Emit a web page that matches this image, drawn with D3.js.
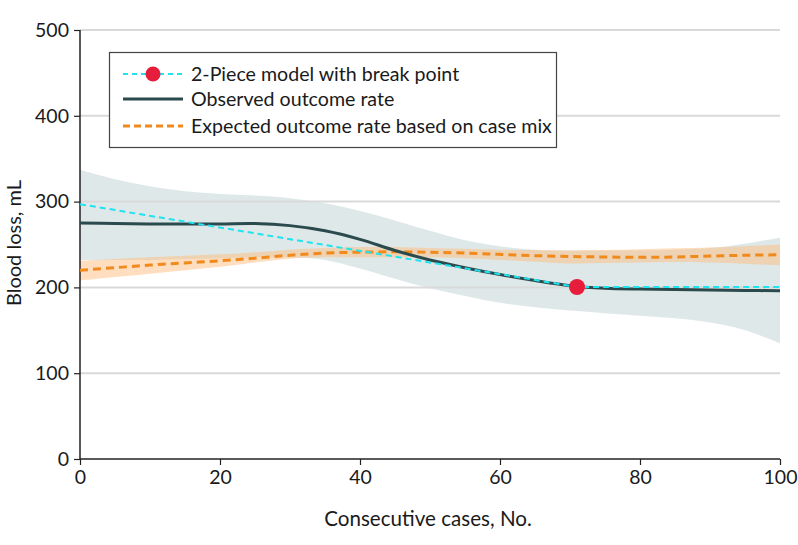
<!DOCTYPE html>
<html><head><meta charset="utf-8">
<script src="https://cdn.jsdelivr.net/npm/d3@7"></script>
<style>body{margin:0;background:#fff}svg{display:block}text{font-family:Lato,"Open Sans",sans-serif;fill:#1a1a1a}</style>
</head><body><svg id="c" width="798" height="545"></svg>
<script>
// Data
const xTicks = [0, 20, 40, 60, 80, 100];
const yTicks = [0, 100, 200, 300, 400, 500];
const caseNo = [0, 5, 10, 15, 20, 25, 30, 35, 40, 45, 50, 55, 60, 65, 70, 75, 80, 85, 90, 95, 100];
const observed = [275, 274.5, 274, 274, 274, 274.5, 272, 266, 256, 243, 232, 223, 215, 208, 202, 199, 198, 197.5, 197, 196.5, 196];
const observedUpper = [337, 326, 318, 312, 309, 307, 304, 298, 289, 278, 266, 255, 248, 244, 243, 243, 243, 244, 246, 251, 258];
const observedLower = [232, 232, 232, 233, 234, 235, 235, 232, 222, 210, 199, 190, 182, 177, 173, 170, 167, 164, 159, 150, 135];
const expected = [220, 223, 226, 228.5, 231, 234, 237.5, 240, 241, 241.5, 241, 240, 238.5, 237, 236, 235.5, 235, 235.5, 236.5, 237.5, 238];
const expectedUpper = [231, 233, 235, 237, 238.5, 241, 244, 246, 247, 247, 246, 245, 244, 243.5, 243, 243.5, 244.5, 245.5, 246.5, 248, 250];
const expectedLower = [208, 212, 216, 220, 224, 229, 233.5, 235, 235, 235, 235, 234, 232, 230, 228, 228.5, 229, 229.5, 229, 227.5, 225.5];
const pieceX = [0, 71, 100];
const pieceY = [297, 200.5, 200.5];
const breakPoint = {x: 71, y: 200.5};
const legendLabels = ["2-Piece model with break point", "Observed outcome rate", "Expected outcome rate based on case mix"];
const xTitle = "Consecutive cases, No.";
const yTitle = "Blood loss, mL";

const C = {cyan: "#1fe3ef", dark: "#2b4a4d", orange: "#f18a1c", red: "#e61e3c", gray: "#dfe8e8", band: "#fcb97a", grid: "#d9d9d9", axis: "#222"};

const svg = d3.select("#c");
const m = {l: 80, r: 18, t: 30, b: 86};
const W = 798, H = 545;
const x = d3.scaleLinear().domain([0, 100]).range([m.l, W - m.r]);
const y = d3.scaleLinear().domain([0, 500]).range([H - m.b, m.t]);

const idx = d3.range(caseNo.length);
const curve = d3.curveCatmullRom.alpha(0.5);
// CI bands
svg.append("path").attr("fill", C.gray)
  .attr("d", d3.area().curve(curve).x(i => x(caseNo[i])).y0(i => y(observedLower[i])).y1(i => y(observedUpper[i]))(idx));
svg.append("path").attr("fill", C.band).attr("fill-opacity", 0.48)
  .attr("d", d3.area().curve(curve).x(i => x(caseNo[i])).y0(i => y(expectedLower[i])).y1(i => y(expectedUpper[i]))(idx));

// grid
svg.append("g").selectAll("line").data(yTicks.filter(d => d > 0)).join("line")
  .attr("x1", x(0)).attr("x2", x(100)).attr("y1", d => y(d)).attr("y2", d => y(d))
  .attr("stroke", C.grid).attr("stroke-width", 2);

// axes
const yAxis = svg.append("g").attr("transform", `translate(${x(0)},0)`)
  .call(d3.axisLeft(y).tickValues(yTicks).tickSize(6).tickPadding(5));
const xAxis = svg.append("g").attr("transform", `translate(0,${y(0)})`)
  .call(d3.axisBottom(x).tickValues(xTicks).tickSize(6).tickPadding(5));
[xAxis, yAxis].forEach(g => {
  g.select(".domain").attr("stroke", C.axis).attr("stroke-width", 1.5);
  g.selectAll(".tick line").attr("stroke", C.axis).attr("stroke-width", 1.2);
  g.selectAll("text").attr("font-size", 19.5).attr("fill", "#1a1a1a").style("font-family", "Lato,sans-serif");
});
xAxis.select(".domain").attr("d", `M${x(0)},0H${x(100)}`);
yAxis.select(".domain").attr("d", `M0,${y(0)}V${y(500)}`);

// lines
svg.append("path").attr("fill", "none").attr("stroke", C.orange).attr("stroke-width", 3)
  .attr("stroke-dasharray", "8,5").attr("d", d3.line().curve(curve).x(i => x(caseNo[i])).y(i => y(expected[i]))(idx));
svg.append("path").attr("fill", "none").attr("stroke", C.dark).attr("stroke-width", 3)
  .attr("d", d3.line().curve(curve).x(i => x(caseNo[i])).y(i => y(observed[i]))(idx));
svg.append("path").attr("fill", "none").attr("stroke", C.cyan).attr("stroke-width", 2)
  .attr("stroke-dasharray", "6,4")
  .attr("d", d3.line().x((d, i) => x(pieceX[i])).y((d, i) => y(pieceY[i]))(pieceX));
svg.append("circle").attr("cx", x(breakPoint.x)).attr("cy", y(breakPoint.y)).attr("r", 8).attr("fill", C.red);

// legend
const lg = svg.append("g");
lg.append("rect").attr("x", 109.5).attr("y", 52.5).attr("width", 447).attr("height", 95)
  .attr("fill", "#fff").attr("stroke", "#444").attr("stroke-width", 1.2);
const rows = [74, 99, 126];
lg.append("line").attr("x1", 123).attr("x2", 183).attr("y1", rows[0]).attr("y2", rows[0])
  .attr("stroke", C.cyan).attr("stroke-width", 2).attr("stroke-dasharray", "5,4");
lg.append("circle").attr("cx", 153).attr("cy", rows[0]).attr("r", 7.5).attr("fill", C.red);
lg.append("line").attr("x1", 123).attr("x2", 183).attr("y1", rows[1]).attr("y2", rows[1])
  .attr("stroke", C.dark).attr("stroke-width", 3);
lg.append("line").attr("x1", 123).attr("x2", 183).attr("y1", rows[2]).attr("y2", rows[2])
  .attr("stroke", C.orange).attr("stroke-width", 3).attr("stroke-dasharray", "7,4");
lg.selectAll("text").data(legendLabels).join("text")
  .attr("x", 191).attr("y", (d, i) => rows[i]).attr("dy", "0.35em")
  .attr("font-size", 19.6).text(d => d);

// titles
svg.append("text").attr("x", 428).attr("y", 519).attr("dy", "0.35em")
  .attr("text-anchor", "middle").attr("font-size", 20.6).text(xTitle);
svg.append("text").attr("transform", `translate(14,243) rotate(-90)`).attr("dy", "0.35em")
  .attr("text-anchor", "middle").attr("font-size", 20).text(yTitle);
</script></body></html>
